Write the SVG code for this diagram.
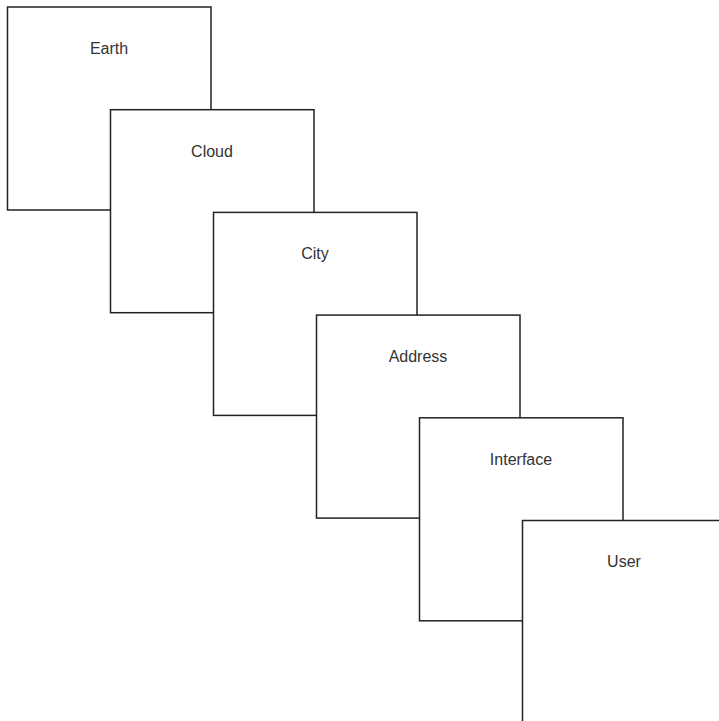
<svg xmlns="http://www.w3.org/2000/svg" width="719" height="721" viewBox="0 0 719 721">
<style>
.box{fill:#fff;stroke:#222;stroke-width:1.5}
.lbl{font-family:"Liberation Sans",Arial,sans-serif;font-size:16px;fill:#333;text-anchor:middle}
</style>
<rect width="719" height="721" fill="#fff"/>
<g id="earth"><rect class="box" x="7.5" y="7" width="203.5" height="203"/><text class="lbl" x="109" y="53.5">Earth</text></g>
<g id="cloud"><rect class="box" x="110.5" y="109.7" width="203.5" height="203"/><text class="lbl" x="212" y="156.5">Cloud</text></g>
<g id="city"><rect class="box" x="213.5" y="212.4" width="203.5" height="203"/><text class="lbl" x="315" y="259">City</text></g>
<g id="address"><rect class="box" x="316.5" y="315.1" width="203.5" height="203"/><text class="lbl" x="418" y="361.5">Address</text></g>
<g id="interface"><rect class="box" x="419.5" y="417.8" width="203.5" height="203"/><text class="lbl" x="521" y="464.5">Interface</text></g>
<g id="user"><rect class="box" x="522.5" y="520.5" width="203.5" height="203"/><text class="lbl" x="624" y="567">User</text></g>
<g id="connectors"></g>
</svg>
